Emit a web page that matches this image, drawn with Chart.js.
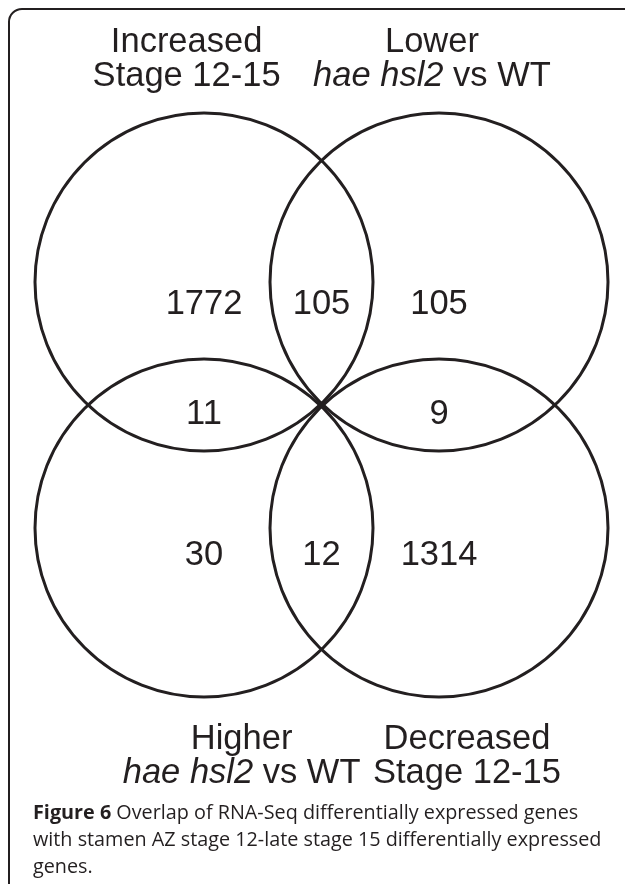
<!DOCTYPE html>
<html>
<head>
<meta charset="utf-8">
<script src="https://cdn.jsdelivr.net/npm/chart.js@4"></script>
<style>
  html, body { margin: 0; padding: 0; background: #fff; }
  #wrap { position: relative; width: 625px; height: 884px; overflow: hidden; }
  #frame { position: absolute; left: 8px; top: 8px; width: 700px; height: 1000px;
    border: 2px solid #231f20; border-top-left-radius: 14px; box-sizing: border-box; }
  #venn { position: absolute; left: 0; top: 0; }
  #caption { position: absolute; left: 33px; top: 798px; width: 578px;
    font-family: "Open Sans"; font-size: 19.8px; line-height: 27px; color: #231f20; }
</style>
</head>
<body>
<div id="wrap">
  <div id="frame"></div>
  <canvas id="venn" width="625" height="884"></canvas>
  <div id="caption"><b>Figure 6</b> Overlap of RNA-Seq differentially expressed genes with stamen AZ stage 12-late stage 15 differentially expressed genes.</div>
</div>
<script>
// sets: top-left, top-right, bottom-left, bottom-right
const setTitles = ['Increased', 'Lower', 'Higher', 'Decreased'];
const setItalic = ['', 'hae hsl2', 'hae hsl2', ''];
const setPlain = ['Stage 12-15', ' vs WT', ' vs WT', 'Stage 12-15'];

// region counts, read left to right, top to bottom
const regionCounts = [1772, 105, 105, 11, 9, 30, 12, 1314];

// layout in diagram units (column 0/1, row 1 = top, 0 = bottom)
const setCol = [0, 1, 0, 1];
const setRow = [1, 1, 0, 0];
const regionCol = [0, 0.5, 1, 0, 1, 0, 0.5, 1];
const regionRow = [0.91, 0.91, 0.91, 0.46, 0.46, -0.11, -0.11, -0.11];
const labelCol = [-0.074, 0.97, 0.16, 1.119];
const labelRow = [1.935, 1.935, -0.898, -0.898];

const ink = '#231f20';
const radius = 169;
const font = '34.5px "Liberation Sans", Arial, sans-serif';
const fontIt = 'italic 34.5px "Liberation Sans", Arial, sans-serif';

const labels = {
  id: 'vennText',
  afterDatasetsDraw(chart) {
    const { ctx, scales: { x, y } } = chart;
    ctx.save();
    ctx.fillStyle = ink;
    ctx.textBaseline = 'middle';
    ctx.textAlign = 'center';
    ctx.font = font;
    regionCounts.forEach((n, i) => {
      ctx.fillText(String(n), x.getPixelForValue(regionCol[i]), y.getPixelForValue(regionRow[i]));
    });
    ctx.textBaseline = 'alphabetic';
    setTitles.forEach((t, i) => {
      const cx = x.getPixelForValue(labelCol[i]);
      const cy = y.getPixelForValue(labelRow[i]);
      ctx.textAlign = 'center';
      ctx.font = font;
      ctx.fillText(t, cx, cy);
      // second line: italic genotype + plain text
      const it = setItalic[i], pl = setPlain[i];
      ctx.font = fontIt;
      const wi = it ? ctx.measureText(it).width : 0;
      ctx.font = font;
      const wp = ctx.measureText(pl).width;
      let left = cx - (wi + wp) / 2;
      ctx.textAlign = 'left';
      const ly = cy + 34;
      if (it) {
        ctx.font = fontIt;
        ctx.fillText(it, left, ly);
        left += wi;
      }
      ctx.font = font;
      ctx.fillText(pl, left, ly);
    });
    ctx.restore();
  }
};

new Chart(document.getElementById('venn'), {
  type: 'bubble',
  data: {
    datasets: [{
      data: setCol.map((c, i) => ({ x: c, y: setRow[i], r: radius })),
      backgroundColor: 'rgba(0,0,0,0)',
      borderColor: ink,
      borderWidth: 3,
      hoverRadius: 0
    }]
  },
  options: {
    responsive: false,
    animation: false,
    events: [],
    layout: { padding: 0, autoPadding: false },
    clip: false,
    plugins: { legend: { display: false }, tooltip: { enabled: false } },
    scales: {
      x: { type: 'linear', display: false, min: -204 / 235, max: (625 - 204) / 235 },
      y: { type: 'linear', display: false, min: (528 - 884) / 246, max: 528 / 246 }
    }
  },
  plugins: [labels]
});
</script>
</body>
</html>
